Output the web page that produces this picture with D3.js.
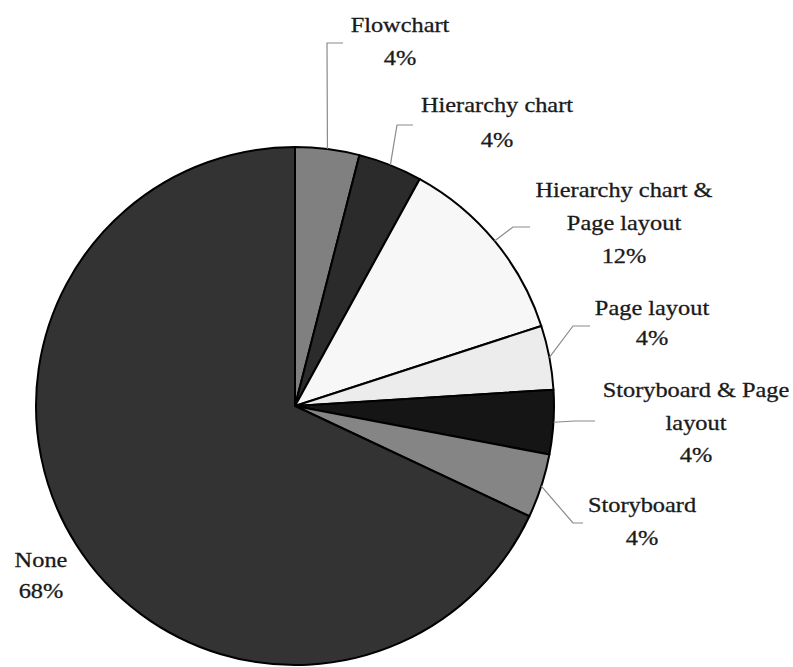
<!DOCTYPE html>
<html>
<head>
<meta charset="utf-8">
<script src="https://cdn.jsdelivr.net/npm/d3@7"></script>
<style>
  html, body { margin: 0; padding: 0; background: #fff; }
  svg { display: block; }
</style>
</head>
<body>
<svg id="chart" width="793" height="667"></svg>
<script>
// ---- data ----
const categories = ["Flowchart", "Hierarchy chart", "Hierarchy chart & Page layout", "Page layout", "Storyboard & Page layout", "Storyboard", "None"];
const values = [4, 4, 12, 4, 4, 4, 68];
const labelLines = [
  ["Flowchart"],
  ["Hierarchy chart"],
  ["Hierarchy chart &", "Page layout"],
  ["Page layout"],
  ["Storyboard & Page", "layout"],
  ["Storyboard"],
  ["None"]
];
const percentLabels = ["4%", "4%", "12%", "4%", "4%", "4%", "68%"];

// ---- styles / layout ----
const fills = ["#808080", "#2b2b2b", "#f7f7f7", "#ececec", "#151515", "#858585", "#333333"];
const cx = 295, cy = 406, R = 259;
// label placement: center x, first baseline y, line spacing, leader elbow & end (null = no leader)
const labelLayout = [
  { x: 400, y: 32,  dy: 33, elbow: [327, 43],  end: [343, 43] },
  { x: 497, y: 112, dy: 35, elbow: [397, 125], end: [413, 125] },
  { x: 624, y: 197, dy: 33, elbow: [513, 227], end: [530, 227] },
  { x: 652, y: 315, dy: 30, elbow: [573, 326], end: [590, 326] },
  { x: 696, y: 397, dy: 32.5, elbow: [575, 421], end: [595, 421] },
  { x: 642, y: 512, dy: 33, elbow: [573, 523], end: [583, 523] },
  { x: 41,  y: 567, dy: 31, elbow: null, end: null }
];

const svg = d3.select("#chart");
const g = svg.append("g").attr("transform", `translate(${cx},${cy})`);

const pie = d3.pie().sort(null).value(d => d)(values);
const arc = d3.arc().innerRadius(0).outerRadius(R);

g.selectAll("path.slice")
  .data(pie)
  .join("path")
  .attr("class", "slice")
  .attr("d", arc)
  .attr("fill", (d, i) => fills[i])
  .attr("stroke", "#000")
  .attr("stroke-width", 2)
  .attr("stroke-linejoin", "round");

// leader lines
pie.forEach((d, i) => {
  const L = labelLayout[i];
  if (!L.elbow) return;
  const a = (d.startAngle + d.endAngle) / 2;
  const sx = cx + R * Math.sin(a), sy = cy - R * Math.cos(a);
  svg.append("polyline")
    .attr("points", `${sx},${sy} ${L.elbow[0]},${L.elbow[1]} ${L.end[0]},${L.end[1]}`)
    .attr("fill", "none")
    .attr("stroke", "#8a8a8a")
    .attr("stroke-width", 1.2);
});

// labels
pie.forEach((d, i) => {
  const L = labelLayout[i];
  const lines = labelLines[i].concat([percentLabels[i]]);
  lines.forEach((t, k) => {
    svg.append("text")
      .attr("transform", `translate(${L.x},${L.y + k * L.dy}) scale(1.16,1)`)
      .attr("text-anchor", "middle")
      .attr("font-family", "'Liberation Serif', 'Times New Roman', serif")
      .attr("font-size", 21)
      .attr("fill", "#1a1a1a")
      .attr("stroke", "#1a1a1a")
      .attr("stroke-width", 0.3)
      .text(t);
  });
});
</script>
</body>
</html>
